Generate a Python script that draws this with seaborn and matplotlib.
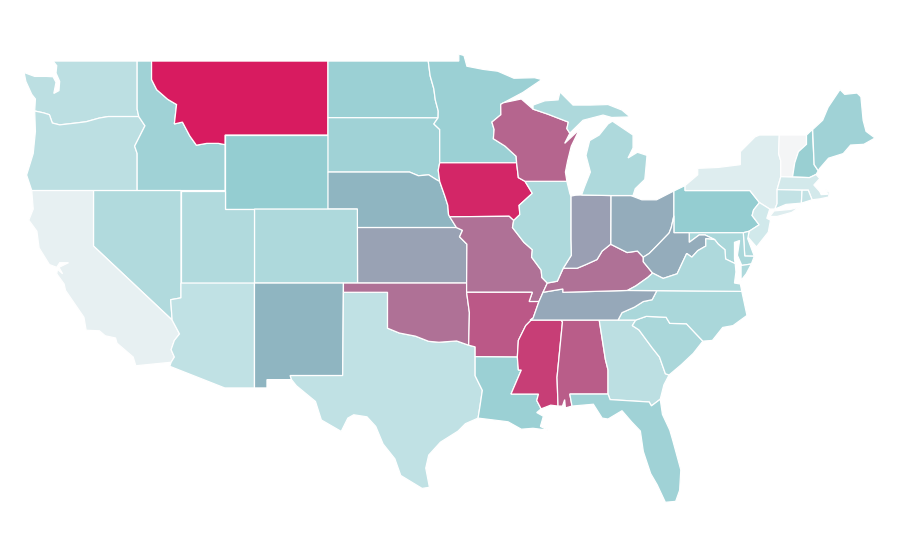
import matplotlib
matplotlib.use("Agg")
import matplotlib.pyplot as plt
from matplotlib.colors import Normalize
import seaborn as sns

# state outlines in (lon, lat)
WA = [(-117.03,49),(-122.75,49),(-122.5,48.75),(-122.55,48.35),(-122.3,47.9),(-122.35,47.4),(-122.7,47.25),(-122.55,47.85),(-122.75,48.15),(-123.2,48.17),(-124.0,48.17),(-124.72,48.38),(-124.6,47.9),(-124.2,47.2),(-123.95,46.95),(-124.0,46.3),(-123.4,46.2),(-123.0,46.1),(-122.8,45.65),(-122.3,45.55),(-121.2,45.65),(-120.5,45.72),(-119.6,45.92),(-119.0,46.0),(-116.92,46.0),(-117.03,46.4)]
OR = [(-124.0,46.3),(-123.4,46.2),(-123.0,46.1),(-122.8,45.65),(-122.3,45.55),(-121.2,45.65),(-120.5,45.72),(-119.6,45.92),(-119.0,46.0),(-116.92,46.0),(-116.5,45.5),(-116.85,44.95),(-117.2,44.4),(-117.03,44.0),(-117.03,42),(-124.2,42),(-124.55,42.84),(-124.1,44.0),(-123.95,45.2)]
ID = [(-117.03,49),(-116.05,49),(-116.05,48.0),(-115.7,47.45),(-114.95,46.93),(-114.35,46.65),(-114.5,45.6),(-113.95,45.7),(-113.45,44.95),(-113.0,44.45),(-112.3,44.55),(-111.5,44.55),(-111.05,44.48),(-111.05,42),(-117.03,42),(-117.03,44.0),(-117.2,44.4),(-116.85,44.95),(-116.5,45.5),(-116.92,46.0),(-117.03,46.4)]
MT = [(-116.05,49),(-104.05,49),(-104.05,45),(-111.05,45),(-111.05,44.48),(-111.5,44.55),(-112.3,44.55),(-113.0,44.45),(-113.45,44.95),(-113.95,45.7),(-114.5,45.6),(-114.35,46.65),(-114.95,46.93),(-115.7,47.45),(-116.05,48.0)]
WY = [(-111.05,45),(-104.05,45),(-104.05,41),(-111.05,41)]
ND = [(-104.05,49),(-97.23,49),(-97.1,48.2),(-96.85,47.5),(-96.75,46.9),(-96.55,46.3),(-96.56,45.93),(-104.05,45.94)]
SD = [(-104.05,45.94),(-96.56,45.93),(-96.85,45.6),(-96.45,45.3),(-96.45,43.5),(-96.55,43.1),(-96.45,42.49),(-96.7,42.6),(-97.2,42.85),(-97.9,42.8),(-98.5,43),(-104.05,43)]
NE = [(-104.05,43),(-98.5,43),(-97.9,42.8),(-97.2,42.85),(-96.7,42.6),(-96.45,42.49),(-96.1,41.7),(-95.9,41.2),(-95.85,40.7),(-95.31,40),(-102.05,40),(-102.05,41),(-104.05,41)]
KS = [(-102.05,40),(-95.31,40),(-94.9,39.85),(-95.1,39.5),(-94.6,39.1),(-94.62,37),(-102.04,37)]
CO = [(-109.05,41),(-102.05,41),(-102.04,37),(-109.05,37)]
UT = [(-114.05,42),(-111.05,42),(-111.05,41),(-109.05,41),(-109.05,37),(-114.05,37)]
NV = [(-120,42),(-114.05,42),(-114.05,36.2),(-114.75,36.1),(-114.65,35.0),(-120,39)]
CA = [(-124.2,42),(-120,42),(-120,39),(-114.65,35),(-114.15,34.25),(-114.5,33.9),(-114.72,33.4),(-114.5,33),(-114.72,32.72),(-117.12,32.53),(-117.3,33),(-118.4,33.75),(-118.5,34.03),(-119.2,34.15),(-119.6,34.42),(-120.5,34.45),(-120.65,35.15),(-121.9,36.6),(-122,36.95),(-122.5,37.5),(-122.45,37.75),(-122.1,37.5),(-122.35,37.85),(-121.7,38.1),(-122.3,38.1),(-122.5,37.85),(-123,38),(-123.7,38.9),(-123.85,39.8),(-124.4,40.4),(-124.1,41)]
AZ = [(-114.05,37),(-109.05,37),(-109.05,31.33),(-111.07,31.33),(-114.81,32.5),(-114.72,32.72),(-114.5,33),(-114.72,33.4),(-114.5,33.9),(-114.15,34.25),(-114.65,35),(-114.75,36.1),(-114.05,36.2)]
NM = [(-109.05,37),(-103,37),(-103.05,32),(-106.62,32),(-106.53,31.78),(-108.2,31.78),(-108.2,31.33),(-109.05,31.33)]
TX = [(-103,36.5),(-100,36.5),(-100,34.56),(-99.2,34.3),(-98.1,34.13),(-97.2,33.85),(-96.5,33.8),(-95.3,33.87),(-94.48,33.64),(-94.04,33.55),(-94.04,31.99),(-93.55,31.2),(-93.7,30.4),(-93.84,29.7),(-94.7,29.4),(-95.2,29),(-96.4,28.4),(-97.2,27.7),(-97.4,27),(-97.15,25.96),(-97.65,25.9),(-99.1,26.6),(-99.5,27.5),(-100.3,28.3),(-100.8,29.25),(-101.4,29.77),(-102.3,29.88),(-102.7,29.7),(-103.15,28.98),(-104.5,29.6),(-104.9,30.6),(-106.2,31.45),(-106.53,31.78),(-106.62,32),(-103.05,32)]
OK = [(-103,37),(-94.62,37),(-94.62,36.5),(-94.43,35.4),(-94.48,33.64),(-95.3,33.87),(-96.5,33.8),(-97.2,33.85),(-98.1,34.13),(-99.2,34.3),(-100,34.56),(-100,36.5),(-103,36.5)]
MN = [(-97.23,49),(-95.15,49),(-95.15,49.38),(-94.8,49.3),(-94.6,48.72),(-93.5,48.55),(-92.5,48.45),(-91.4,48.07),(-90,48.1),(-89.5,48),(-90.8,47.3),(-92.1,46.75),(-92.3,46.66),(-92.29,46.1),(-92.9,45.7),(-92.75,45.3),(-92.8,44.8),(-92,44.4),(-91.25,43.85),(-91.22,43.5),(-96.45,43.5),(-96.45,45.3),(-96.85,45.6),(-96.56,45.93),(-96.55,46.3),(-96.75,46.9),(-96.85,47.5),(-97.1,48.2)]
IA = [(-96.45,43.5),(-91.22,43.5),(-91.1,42.7),(-90.65,42.5),(-90.15,41.85),(-91.05,41.2),(-91,40.7),(-91.42,40.38),(-91.73,40.61),(-95.77,40.58),(-95.85,40.7),(-95.9,41.2),(-96.1,41.7),(-96.45,42.49),(-96.55,43.1)]
MO = [(-95.77,40.58),(-91.73,40.61),(-91.42,40.38),(-91.5,40),(-90.72,39.2),(-90.15,38.8),(-90.2,38.4),(-89.55,37.7),(-89.5,37.3),(-89.13,37),(-89.42,36.5),(-89.7,36),(-90.37,36),(-90.15,36.5),(-94.62,36.5),(-94.62,37),(-94.6,39.1),(-95.1,39.5),(-94.9,39.85),(-95.31,40)]
AR = [(-94.62,36.5),(-90.15,36.5),(-90.37,36),(-89.7,36),(-90.1,35.1),(-90.6,34.7),(-91.1,33.9),(-91.17,33),(-94.04,33.02),(-94.04,33.55),(-94.48,33.64),(-94.43,35.4)]
LA = [(-94.04,33.02),(-91.17,33),(-91.1,32.3),(-90.9,32.3),(-91.6,31),(-89.73,31),(-89.85,30.65),(-89.55,30.2),(-89.85,30),(-89.4,29.8),(-89.6,29.25),(-89.1,29.05),(-90.1,29.15),(-90.9,29.1),(-91.8,29.5),(-92.3,29.55),(-93.84,29.7),(-93.7,30.4),(-93.55,31.2),(-94.04,31.99)]
MS = [(-91.17,33),(-91.1,33.9),(-90.6,34.7),(-90.1,35.1),(-90.3,35),(-88.2,35),(-88.1,34.9),(-88.47,31.9),(-88.4,30.35),(-88.9,30.4),(-89.55,30.2),(-89.85,30.65),(-89.73,31),(-91.6,31),(-90.9,32.3),(-91.1,32.3)]
AL = [(-88.2,35),(-85.6,35),(-85.18,32.87),(-85,32.3),(-85,31),(-87.6,31),(-87.45,30.35),(-87.9,30.25),(-87.95,30.7),(-88.1,30.35),(-88.4,30.35),(-88.47,31.9),(-88.1,34.9)]
GA = [(-85.6,35),(-83.11,35),(-83.35,34.7),(-82.9,34.47),(-82,33.5),(-81.5,33),(-81.1,32.1),(-80.85,32.03),(-81.2,31.5),(-81.45,30.72),(-82.05,30.36),(-82.2,30.57),(-84.86,30.7),(-85,31),(-85,32.3),(-85.18,32.87)]
FL = [(-87.6,31),(-85,31),(-84.86,30.7),(-82.2,30.57),(-82.05,30.36),(-81.45,30.72),(-81.3,29.9),(-80.8,29.05),(-80.6,28.5),(-80.05,26.9),(-80.13,25.8),(-80.4,25.2),(-81.1,25.15),(-81.66,26.1),(-82.1,26.7),(-82.6,27.9),(-82.8,29),(-83.4,29.5),(-84.05,30.1),(-85,29.65),(-85.4,29.7),(-86,30.45),(-87.45,30.35)]
SC = [(-83.35,34.7),(-83.11,35),(-82.4,35.2),(-81.05,35.15),(-80.8,34.82),(-79.67,34.8),(-78.55,33.86),(-79.2,33.2),(-80,32.6),(-80.85,32.03),(-81.1,32.1),(-81.5,33),(-82,33.5),(-82.9,34.47)]
NC = [(-84.32,35),(-83.11,35),(-82.4,35.2),(-81.05,35.15),(-80.8,34.82),(-79.67,34.8),(-78.55,33.86),(-77.9,33.9),(-77.2,34.6),(-76.5,34.7),(-75.55,35.25),(-75.9,36.55),(-81.68,36.59),(-82,36.1),(-82.6,36),(-83.2,35.7),(-84.05,35.4)]
TN = [(-90.3,35),(-88.2,35),(-85.6,35),(-84.32,35),(-84.05,35.4),(-83.2,35.7),(-82.6,36),(-82,36.1),(-81.68,36.59),(-83.68,36.6),(-88.07,36.5),(-88.07,36.68),(-89.42,36.5),(-89.7,36),(-90.1,35.1)]
KY = [(-89.42,36.5),(-88.07,36.68),(-88.07,36.5),(-83.68,36.6),(-83.1,36.85),(-82.3,37.3),(-81.97,37.54),(-82.6,38.15),(-82.6,38.4),(-83,38.73),(-83.7,38.65),(-84.2,38.85),(-84.82,39.1),(-85.4,38.73),(-85.75,38.27),(-86.5,38),(-87.1,37.8),(-88.05,37.8),(-88.45,37.1),(-89.13,37)]
OH = [(-84.82,39.1),(-84.81,41.73),(-83.45,41.73),(-82.7,41.5),(-81.7,41.5),(-80.52,41.98),(-80.52,40.64),(-80.7,40),(-80.85,39.7),(-81.7,39),(-82.2,38.6),(-82.6,38.4),(-83,38.73),(-83.7,38.65),(-84.2,38.85)]
IN = [(-87.53,41.7),(-87.2,41.75),(-86.8,41.76),(-84.81,41.73),(-84.82,39.1),(-85.4,38.73),(-85.75,38.27),(-86.5,38),(-87.1,37.8),(-88.05,37.8),(-87.5,38.5),(-87.53,39.35)]
IL = [(-90.65,42.5),(-87.8,42.5),(-87.6,41.85),(-87.53,41.7),(-87.53,39.35),(-87.5,38.5),(-88.05,37.8),(-88.45,37.1),(-89.13,37),(-89.5,37.3),(-89.55,37.7),(-90.2,38.4),(-90.15,38.8),(-90.72,39.2),(-91.5,40),(-91.42,40.38),(-91,40.7),(-91.05,41.2),(-90.15,41.85)]
WI = [(-92.1,46.75),(-90.9,46.95),(-90.1,46.4),(-89.1,46.13),(-87.7,45.7),(-87.8,45.35),(-87.6,45.1),(-87.95,44.55),(-86.95,45.3),(-87.5,44.4),(-87.75,43.6),(-87.9,43),(-87.8,42.5),(-90.65,42.5),(-91.1,42.7),(-91.22,43.5),(-91.25,43.85),(-92,44.4),(-92.8,44.8),(-92.75,45.3),(-92.9,45.7),(-92.29,46.1),(-92.3,46.66)]
MI_UPPER = [(-90.1,46.4),(-89.1,46.13),(-87.7,45.7),(-87.8,45.35),(-87.6,45.1),(-86.7,45.8),(-85.34,46.08),(-84.75,45.95),(-83.5,45.98),(-84.05,46.35),(-85,46.65),(-86.2,46.62),(-87.38,46.62),(-88.27,47.33),(-88.4,46.9),(-89.3,46.85),(-90.1,46.62)]
MI_LOWER = [(-86.8,41.76),(-84.81,41.73),(-83.3,41.73),(-83.15,42.1),(-82.5,42.6),(-82.45,43),(-82.35,43.9),(-83,44.07),(-83.64,43.76),(-83.3,44.3),(-83.3,45),(-84.7,45.75),(-85,45.6),(-85.6,45),(-86.25,44.7),(-86.5,43.9),(-86.2,43),(-86.6,42.2)]
PA = [(-80.52,41.98),(-79.76,42.27),(-79.76,42),(-75.35,42),(-74.7,41.35),(-75.1,40.95),(-75.2,40.65),(-74.72,40.15),(-75.4,39.8),(-75.8,39.72),(-80.52,39.72)]
NY = [(-79.76,42.27),(-78.9,42.85),(-78.9,43.2),(-77.5,43.25),(-76,43.4),(-76,44.1),(-75,44.9),(-74.7,45),(-73.35,45),(-73.4,44),(-73.25,43.6),(-73.25,42.75),(-73.5,42.05),(-73.5,41.3),(-73.65,41),(-74,41),(-74.7,41.35),(-75.35,42),(-79.76,42)]
NY_LONG_ISLAND = [(-74,40.6),(-73.7,40.9),(-72.6,40.98),(-72,41.1),(-72.5,40.82),(-73.5,40.6)]
VT = [(-73.35,45),(-71.5,45),(-71.5,44.5),(-72.05,44.1),(-72.3,43.5),(-72.45,42.73),(-73.25,42.75),(-73.25,43.6),(-73.4,44)]
NH = [(-71.5,45),(-71.1,45.3),(-70.98,43.4),(-70.7,43.07),(-70.85,42.87),(-71.3,42.7),(-72.45,42.73),(-72.3,43.5),(-72.05,44.1),(-71.5,44.5)]
ME = [(-71.08,45.3),(-70.4,45.8),(-70.03,46.5),(-69.22,47.46),(-68.9,47.2),(-68.06,47.27),(-67.8,47.07),(-67.65,45.8),(-67.45,45.2),(-66.84,44.84),(-67.6,44.5),(-68.5,44.46),(-69,44),(-70,43.75),(-70.6,43.2),(-70.7,43.07),(-70.98,43.4)]
MA = [(-73.5,42.05),(-73.25,42.75),(-71.3,42.7),(-70.85,42.87),(-70.6,42.65),(-71,42.3),(-70.6,41.95),(-70.5,41.78),(-70.05,41.8),(-70.2,42.07),(-69.95,41.9),(-70,41.65),(-70.6,41.55),(-71.12,41.5),(-71.38,42.02),(-71.8,42.02)]
CT = [(-73.5,42.05),(-71.8,42.02),(-71.85,41.32),(-72.9,41.25),(-73.65,41),(-73.5,41.3)]
RI = [(-71.8,42.02),(-71.38,42.02),(-71.12,41.5),(-71.85,41.32)]
NJ = [(-74.7,41.35),(-74,41),(-74.2,40.5),(-73.95,40.4),(-74.1,39.75),(-74.9,38.95),(-75.5,39.5),(-75.4,39.8),(-74.72,40.15),(-75.2,40.65),(-75.1,40.95)]
DE = [(-75.8,39.72),(-75.4,39.8),(-75.5,39.4),(-75.05,38.45),(-75.7,38.46)]
MD = [(-79.48,39.72),(-75.8,39.72),(-75.7,38.46),(-75.05,38.45),(-75.25,38.03),(-75.9,37.95),(-76.2,38.5),(-76.05,39.3),(-76.4,39.2),(-76.4,38.3),(-76.35,38.05),(-77,38.3),(-77.05,38.8),(-77.5,39.1),(-77.75,39.35),(-78.4,39.6),(-78.8,39.6),(-79.48,39.2)]
WV = [(-80.52,40.64),(-80.52,39.72),(-79.48,39.72),(-79.48,39.2),(-78.8,39.6),(-78.4,39.6),(-77.75,39.35),(-78.35,39.4),(-78.35,39),(-78.9,38.75),(-79.3,38.4),(-79.65,38.6),(-80.3,37.5),(-81.25,37.25),(-81.97,37.54),(-82.6,38.15),(-82.6,38.4),(-82.2,38.6),(-81.7,39),(-80.85,39.7),(-80.7,40)]
VA = [(-83.68,36.6),(-81.68,36.59),(-75.9,36.55),(-76,36.95),(-76.4,37),(-76.3,37.6),(-76.35,38.05),(-77,38.3),(-77.05,38.8),(-77.5,39.1),(-77.75,39.35),(-78.35,39.4),(-78.35,39),(-78.9,38.75),(-79.3,38.4),(-79.65,38.6),(-80.3,37.5),(-81.25,37.25),(-81.97,37.54),(-82.3,37.3),(-83.1,36.85)]
VA_SHORE = [(-75.25,38.03),(-75.95,37.95),(-75.95,37.15),(-75.6,37.5)]

STATE_NAMES = ["WA","OR","ID","MT","WY","ND","SD","NE","KS","CO","UT","NV","CA","AZ","NM","TX","OK","MN","IA","MO","AR","LA","MS","AL","GA","FL","SC","NC","TN","KY","OH","IN","IL","WI","MI","PA","NY","VT","NH","ME","MA","CT","RI","NJ","DE","MD","WV","VA"]
STATE_VALUES = [22,22,30,100,33,31,30,50,64,26,25,25,6,21,50,21,78,31,97,78,84,31,91,83,22,30,27,27,59,78,57,66,26,81,26,33,10,0,32,30,15,20,20,16,26,27,57,26]
STATE_SHAPES = {"WA":[WA],"OR":[OR],"ID":[ID],"MT":[MT],"WY":[WY],"ND":[ND],"SD":[SD],"NE":[NE],"KS":[KS],"CO":[CO],"UT":[UT],"NV":[NV],"CA":[CA],"AZ":[AZ],"NM":[NM],"TX":[TX],"OK":[OK],"MN":[MN],"IA":[IA],"MO":[MO],"AR":[AR],"LA":[LA],"MS":[MS],"AL":[AL],"GA":[GA],"FL":[FL],"SC":[SC],"NC":[NC],"TN":[TN],"KY":[KY],"OH":[OH],"IN":[IN],"IL":[IL],"WI":[WI],"MI":[MI_UPPER,MI_LOWER],"PA":[PA],"NY":[NY,NY_LONG_ISLAND],"VT":[VT],"NH":[NH],"ME":[ME],"MA":[MA],"CT":[CT],"RI":[RI],"NJ":[NJ],"DE":[DE],"MD":[MD],"WV":[WV],"VA":[VA,VA_SHORE]}

sns.set_theme(style="white")
cmap = sns.blend_palette(["#f4f5f6", "#cfe8ea", "#93ccd0", "#8fb5c1", "#9b9eb2", "#b95c89", "#d81b60"], n_colors=256, as_cmap=True)
norm = Normalize(0, 100)

fig = plt.figure(figsize=(9, 5.6), dpi=100)
ax = fig.add_axes([0, 0, 1, 1])

for name, value in zip(STATE_NAMES, STATE_VALUES):
    for part in STATE_SHAPES[name]:
        lons, lats = zip(*part)
        ax.fill(lons, lats, facecolor=cmap(norm(value)), edgecolor="white", linewidth=0.9)

# plain lon/lat axes, no projection
ax.set_xlim(-126.36, -65.14)
ax.set_ylim(22.03, 52.30)
ax.axis("off")

fig.savefig("out.png", dpi=100)
